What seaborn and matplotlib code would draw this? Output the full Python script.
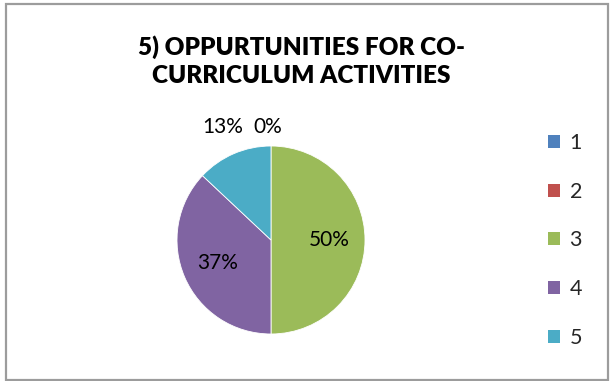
import matplotlib
matplotlib.use("Agg")
import matplotlib.pyplot as plt
import seaborn as sns
import numpy as np
from matplotlib.patches import Patch, Rectangle

categories = ["1", "2", "3", "4", "5"]
values = [0, 0, 50, 37, 13]
pct_labels = ["0%", "0%", "50%", "37%", "13%"]
title = "5) OPPURTUNITIES FOR CO-\nCURRICULUM ACTIVITIES"

sns.set_theme(style="white")
plt.rcParams["font.family"] = ["Lato", "DejaVu Sans"]

colors = ["#4F81BD", "#C0504D", "#9BBB59", "#8064A2", "#4BACC6"]

W, H = 610, 381
fig = plt.figure(figsize=(W / 100, H / 100), dpi=100)
fig.patch.set_facecolor("white")

cx, cy, r = 271, 240, 94
ax = fig.add_axes([(cx - r) / W, (H - cy - r) / H, 2 * r / W, 2 * r / H])
wedges, _ = ax.pie(values, colors=colors, startangle=90, counterclock=False,
                   radius=1, wedgeprops=dict(linewidth=0.6, edgecolor="white"))
ax.set_xlim(-1, 1)
ax.set_ylim(-1, 1)
ax.set_aspect("auto")
ax.axis("off")

lab_fs = 15
# inside labels for the large slices
for w, lab, v in zip(wedges, pct_labels, values):
    if v >= 30:
        mid = np.deg2rad((w.theta1 + w.theta2) / 2)
        ax.text(0.62 * np.cos(mid), 0.62 * np.sin(mid), lab, ha="center", va="center",
                fontsize=lab_fs, color="#000000")

# outside labels (Excel placed them above the pie)
ax.text(-0.51, 1.20, pct_labels[4], ha="center", va="center", fontsize=lab_fs, color="#000000", clip_on=False)
ax.text(-0.03, 1.20, pct_labels[0], ha="center", va="center", fontsize=lab_fs, color="#000000", clip_on=False)

fig.text(301 / W, 1 - 61 / H, title, ha="center", va="center", fontsize=17.5,
         fontweight="heavy", linespacing=1.35, color="#000000")

handles = [Patch(facecolor=c, edgecolor="none") for c in colors]
leg = fig.legend(handles, categories, loc="center left",
                 bbox_to_anchor=(548 / W, 1 - 240.5 / H), frameon=False,
                 fontsize=15.5, handlelength=0.55, handleheight=0.55,
                 handletextpad=0.45, labelspacing=1.33, borderpad=0, borderaxespad=0)

fig.add_artist(Rectangle((5.5 / W, 1.5 / H), (W - 8) / W, (H - 5) / H,
                         transform=fig.transFigure, fill=False,
                         edgecolor="#9c9c9c", linewidth=1.6))

fig.savefig("out.png", dpi=100)
